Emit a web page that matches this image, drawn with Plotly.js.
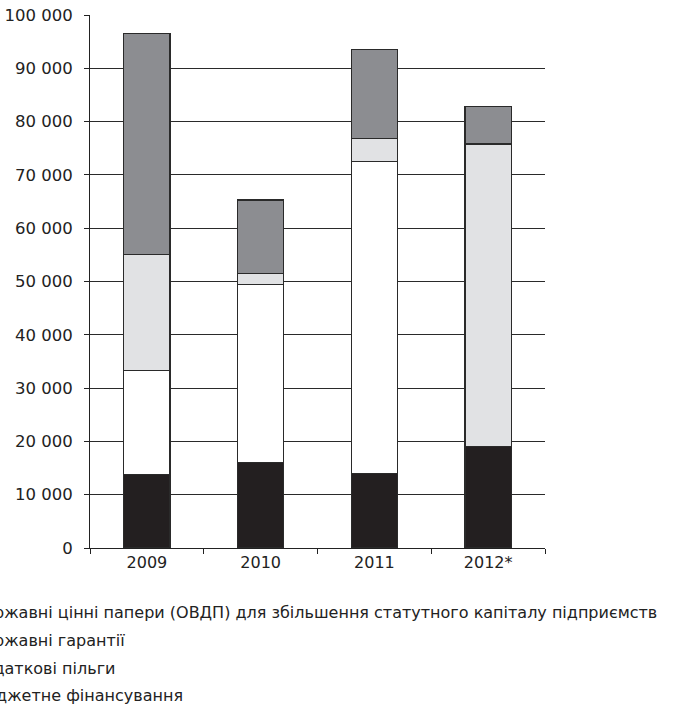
<!DOCTYPE html>
<html>
<head>
<meta charset="utf-8">
<script src="https://cdn.plot.ly/plotly-3.0.1.min.js"></script>
<style>html,body{margin:0;padding:0;background:#fff;}#chart{width:687px;height:719px;}</style>
</head>
<body>
<div id="chart"></div>
<script>
const years = ["2009", "2010", "2011", "2012*"];
const budgetFunding = [13800, 16100, 14000, 19000];
const taxBenefits = [19500, 33300, 58500, 0];
const stateGuarantees = [21800, 2100, 4400, 56800];
const govBonds = [41400, 13800, 16700, 7000];
const seriesNames = [
  "Бюджетне фінансування",
  "Податкові пільги",
  "Державні гарантії",
  "Державні цінні папери (ОВДП) для збільшення статутного капіталу підприємств"
];
const yTickVals = [0, 10000, 20000, 30000, 40000, 50000, 60000, 70000, 80000, 90000, 100000];
const yTickText = ["0", "10 000", "20 000", "30 000", "40 000", "50 000", "60 000", "70 000", "80 000", "90 000", "100 000"];

const seriesValues = [budgetFunding, taxBenefits, stateGuarantees, govBonds];
const colors = ["#231f20", "#ffffff", "#e1e2e4", "#8c8d91"];

const traces = seriesValues.map((vals, i) => ({
  type: "bar",
  x: years,
  y: vals,
  name: seriesNames[i],
  legendgroup: "g" + i,
  legendrank: 1000 + (seriesValues.length - i),
  marker: { color: colors[i], line: { color: "#2a2a2a", width: 1.2 } },
  hoverinfo: "skip"
}));

const font = "DejaVu Sans, Liberation Sans, Arial, sans-serif";
const layout = {
  width: 687, height: 719,
  margin: { l: 90, r: 142, t: 15, b: 171, autoexpand: false },
  paper_bgcolor: "#fff", plot_bgcolor: "#fff",
  barmode: "stack",
  bargap: 0.595,
  showlegend: true,
  legend: {
    x: -0.348, xanchor: "left", y: -0.088, yanchor: "top",
    traceorder: "grouped",
    tracegroupgap: 4,
    font: { family: font, size: 16, color: "#222" },
    bgcolor: "rgba(0,0,0,0)"
  },
  xaxis: {
    type: "category",
    showgrid: false,
    showline: true, linecolor: "#222", linewidth: 1,
    ticks: "outside", tickson: "boundaries", ticklen: 5, tickcolor: "#222",
    tickfont: { family: font, size: 16, color: "#222" },
    zeroline: false
  },
  yaxis: {
    range: [0, 100000],
    tickvals: yTickVals, ticktext: yTickText,
    showgrid: true, gridcolor: "#2a2a2a", gridwidth: 1,
    showline: true, linecolor: "#222", linewidth: 1,
    ticks: "outside", ticklen: 5, tickcolor: "#222",
    ticklabelstandoff: 8,
    tickfont: { family: font, size: 16.5, color: "#222" },
    zeroline: false
  }
};

Plotly.newPlot("chart", traces, layout, { staticPlot: true, displayModeBar: false });
</script>
</body>
</html>
